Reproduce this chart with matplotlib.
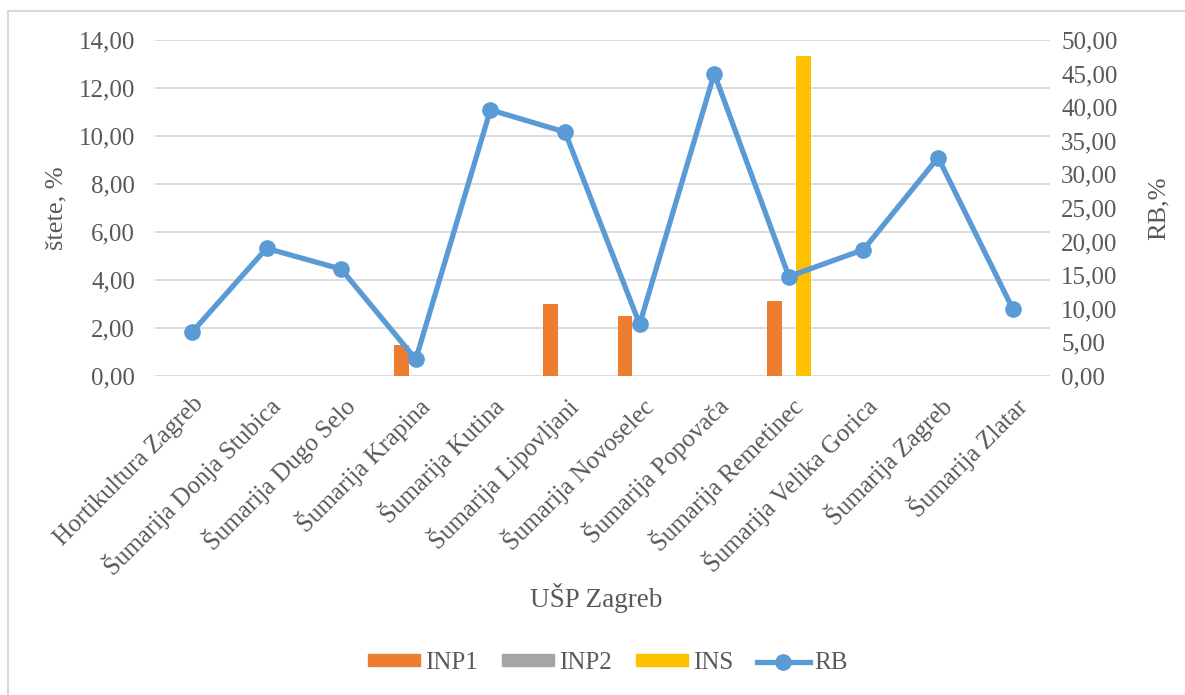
import numpy as np
import matplotlib
matplotlib.use("Agg")
import matplotlib.pyplot as plt
from matplotlib.lines import Line2D
from matplotlib.patches import Patch
from matplotlib.ticker import FuncFormatter

plt.rcParams['font.family'] = ['Liberation Serif', 'DejaVu Serif']

categories = ["Hortikultura Zagreb", "Šumarija Donja Stubica", "Šumarija Dugo Selo",
              "Šumarija Krapina", "Šumarija Kutina", "Šumarija Lipovljani",
              "Šumarija Novoselec", "Šumarija Popovača", "Šumarija Remetinec",
              "Šumarija Velika Gorica", "Šumarija Zagreb", "Šumarija Zlatar"]
inp1 = [0, 0, 0, 1.28, 0, 2.99, 2.49, 0, 3.14, 0, 0, 0]
inp2 = [0, 0, 0, 0, 0, 0, 0, 0, 0, 0, 0, 0]
ins = [0, 0, 0, 0, 0, 0, 0, 0, 13.33, 0, 0, 0]
rb = [6.5, 19.0, 15.9, 2.5, 39.6, 36.3, 7.7, 45.0, 14.8, 18.8, 32.5, 10.0]

text_col = '#595959'
grid_col = '#D9D9D9'
c_inp1 = '#ED7D31'
c_inp2 = '#A5A5A5'
c_ins = '#FFC000'
c_rb = '#5B9BD5'

def comma(v, pos):
    return f"{v:.2f}".replace('.', ',')

fig = plt.figure(figsize=(11.85, 6.95), dpi=100)
ax = fig.add_axes([0.1305, 0.459, 0.7556, 0.4835])
ax2 = ax.twinx()

x = np.arange(len(categories))
w = 0.195
ax.bar(x - w, inp1, w, color=c_inp1, zorder=3)
ax.bar(x, inp2, w, color=c_inp2, zorder=3)
ax.bar(x + w, ins, w, color=c_ins, zorder=3)

ax2.plot(x, rb, color=c_rb, lw=3.8, marker='o', ms=11, zorder=4,
         solid_capstyle='round', solid_joinstyle='round')

ax.set_xlim(-0.5, len(categories) - 0.5)
ax.set_ylim(0, 14)
ax.set_yticks(np.arange(0, 14.01, 2))
ax2.set_ylim(0, 50)
ax2.set_yticks(np.arange(0, 50.01, 5))
ax.yaxis.set_major_formatter(FuncFormatter(comma))
ax2.yaxis.set_major_formatter(FuncFormatter(comma))

ax.grid(axis='y', color=grid_col, lw=1.3, zorder=0)
ax.set_axisbelow(True)
for a in (ax, ax2):
    for s in a.spines.values():
        s.set_visible(False)
    a.tick_params(length=0, labelsize=18, colors=text_col)
ax.tick_params(axis='y', pad=14)
ax2.tick_params(axis='y', pad=8)

ax.set_xticks(x)
ax.set_xticklabels(categories, rotation=45, ha='right', rotation_mode='anchor',
                   fontsize=18, color=text_col)
ax.tick_params(axis='x', pad=12)

ax.set_ylabel("štete, %", fontsize=19, color=text_col, labelpad=8)
ax2.set_ylabel("RB,%", fontsize=19, color=text_col, labelpad=22)
fig.text(0.503, 0.139, "UŠP Zagreb", ha='center', va='center', fontsize=19.5, color=text_col)

handles = [Patch(color=c_inp1), Patch(color=c_inp2), Patch(color=c_ins),
           Line2D([], [], color=c_rb, lw=3.8, marker='o', ms=11)]
leg = fig.legend(handles, ["INP1", "INP2", "INS", "RB"], loc='center',
                 bbox_to_anchor=(0.513, 0.046), ncol=4, frameon=False,
                 fontsize=18, handlelength=2.1, handleheight=0.35,
                 columnspacing=0.95, handletextpad=0.2)
for t in leg.get_texts():
    t.set_color(text_col)

# outer chart border
fig.add_artist(Line2D([0.0068, 0.0068], [0.0, 0.984], color=grid_col, lw=1.5,
                      transform=fig.transFigure))
fig.add_artist(Line2D([0.0068, 1.0], [0.984, 0.984], color=grid_col, lw=1.5,
                      transform=fig.transFigure))

fig.savefig("out.png", dpi=100)
